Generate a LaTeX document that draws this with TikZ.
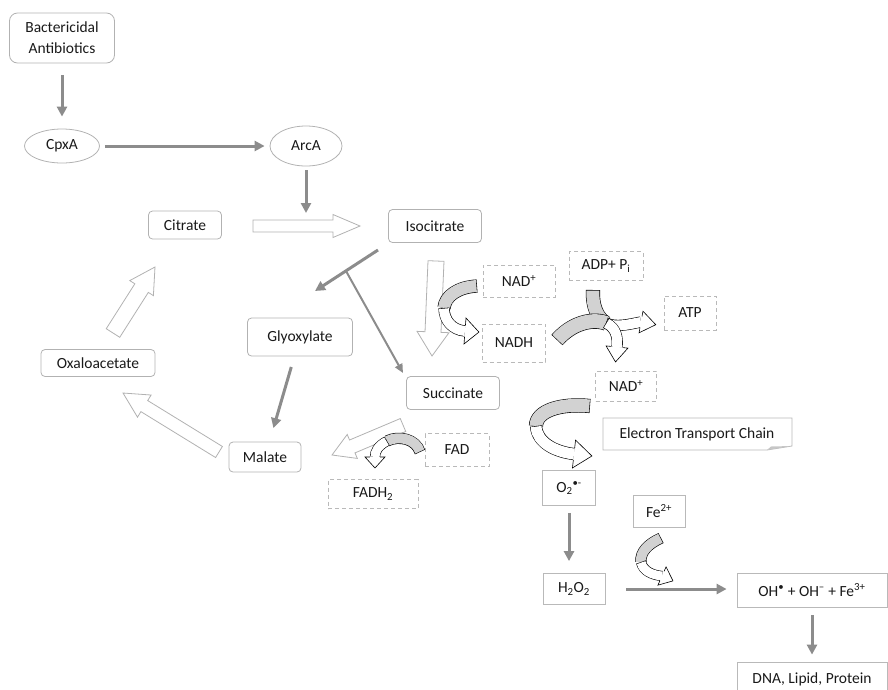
\documentclass[tikz,border=0pt]{standalone}
\usepackage{fontspec}
\setmainfont{Carlito}
\usetikzlibrary{shapes.geometric,arrows.meta,calc}

\tikzset{
 txt/.style={font=\fontsize{15.5}{18}\selectfont, text=black!90, inner sep=0pt, align=center},
 rbox/.style={txt, draw=gray!60, line width=0.8pt, rounded corners=4pt},
 sbox/.style={txt, draw=gray!55, line width=0.8pt},
 dbox/.style={txt, draw=gray!55, line width=1pt, dash pattern=on 4pt off 3pt},
 ell/.style={txt, ellipse, draw=gray!60, line width=0.8pt},
 garrow/.style={draw=gray!90, line width=3pt, -{Triangle[length=10pt,width=10pt]}},
 gthin/.style={draw=gray!90, line width=2pt, -{Triangle[length=9pt,width=8pt]}},
 hollow/.style={draw=gray!60, fill=white, line width=0.8pt, line join=miter},
}

% block arrow: tail, tip, half shaft, half head, head length
\newcommand{\hollowarr}[5]{%
 \coordinate (hn) at ($(#2)!#5!(#1)$);
 \draw[hollow] ($(#1)!#3!90:(#2)$) -- ($(hn)!#3!90:(#2)$) -- ($(hn)!#4!90:(#2)$) -- (#2) -- ($(hn)!#4!-90:(#2)$) -- ($(hn)!#3!-90:(#2)$) -- ($(#1)!#3!-90:(#2)$) -- cycle;}
% curved band: colour, outer width, inner width, options, path
\newcommand{\cband}[5]{%
 \draw[line width=#2, black] #5;
 \draw[line width=#3, #1, #4] #5;}
% head of curved arrow: end E, control D, half band, half head, head length
\newcommand{\chead}[5]{%
 \fill[white] ($(#1)!#4!90:(#2)$) -- ($(#1)!-#5!(#2)$) -- ($(#1)!#4!-90:(#2)$) -- cycle;
 \draw[black, line width=0.6pt, line join=miter] ($(#1)!#3!90:(#2)$) -- ($(#1)!#4!90:(#2)$) -- ($(#1)!-#5!(#2)$) -- ($(#1)!#4!-90:(#2)$) -- ($(#1)!#3!-90:(#2)$);}

\begin{document}
\begin{tikzpicture}[x=1pt,y=-1pt]
\useasboundingbox (0,0) rectangle (888,689);

% ---- nodes ----
\node[rbox, rounded corners=8pt, minimum width=105pt, minimum height=50pt, font=\fontsize{15.5}{21}\selectfont] (bact) at (62,38) {Bactericidal\\Antibiotics};
\node[ell, minimum width=75pt, minimum height=34pt] (cpxa) at (62,146) {CpxA};
\node[ell, minimum width=72pt, minimum height=40pt] (arca) at (306,146) {ArcA};
\node[rbox, minimum width=73pt, minimum height=28pt] (citrate) at (185,225) {Citrate};
\node[rbox, minimum width=93pt, minimum height=33pt] (isocitrate) at (435,226) {Isocitrate};
\node[rbox, minimum width=105pt, minimum height=38pt] (glyox) at (300,337) {Glyoxylate};
\node[rbox, minimum width=72pt, minimum height=30pt] (malate) at (265,457) {Malate};
\node[rbox, minimum width=114pt, minimum height=27pt] (oxalo) at (98,363) {Oxaloacetate};
\node[rbox, minimum width=93pt, minimum height=33pt] (succinate) at (453,393) {Succinate};

\node[dbox, minimum width=72pt, minimum height=32pt] (nad1) at (519,281) {NAD\textsuperscript{+}};
\node[dbox, minimum width=63pt, minimum height=38pt] (nadh) at (514,343) {NADH};
\node[dbox, minimum width=74pt, minimum height=29pt] (adp) at (606,266) {ADP+ P\textsubscript{i}};
\node[dbox, minimum width=52pt, minimum height=34pt] (atp) at (690,313) {ATP};
\node[dbox, minimum width=61pt, minimum height=30pt] (nad2) at (626,386) {NAD\textsuperscript{+}};
\node[dbox, minimum width=64pt, minimum height=33pt] (fad) at (457,450) {FAD};
\node[dbox, minimum width=90pt, minimum height=29pt] (fadh) at (373,494) {FADH\textsubscript{2}};

\node[txt] (etc) at (697,434) {Electron Transport Chain};
\draw[draw=gray!55, line width=0.8pt, line join=miter] (603,418) -- (792,418) -- (792,446) -- (767,450) -- (603,450) -- cycle;
\fill[gray!45] (767,450) -- (792,446) -- (771,446.5) -- cycle;

\node[sbox, minimum width=53pt, minimum height=35pt] (o2) at (569,488) {O\textsubscript{2}\textsuperscript{\textbullet-}};
\node[sbox, minimum width=52pt, minimum height=32pt] (fe) at (659,511) {Fe\textsuperscript{2+}};
\node[sbox, minimum width=62pt, minimum height=31pt] (h2o2) at (574,589) {H\textsubscript{2}O\textsubscript{2}};
\node[sbox, minimum width=150pt, minimum height=34pt] (oh) at (812,590) {OH\textsuperscript{\textbullet} + OH\textsuperscript{–} + Fe\textsuperscript{3+}};
\node[sbox, minimum width=150pt, minimum height=34pt] (dna) at (812,679) {DNA, Lipid, Protein};

% ---- gray connectors ----
\draw[garrow, shorten <=12pt, shorten >=12pt] (bact) -- (cpxa);
\draw[garrow, shorten <=5pt, shorten >=5pt] (cpxa) -- (arca);
\coordinate (arcend) at (306,213);
\draw[garrow, shorten <=4pt] (arca) -- (arcend);
\coordinate (t1) at (378,250);
\coordinate (t2) at (315,291);
\coordinate (tj) at (346,271);
\coordinate (t3) at (403,373);
\draw[garrow] (t1) -- (t2);
\draw[gthin] (tj) -- (t3);
\draw[garrow, shorten <=11pt, shorten >=14pt] (glyox) -- (malate);
\draw[garrow, shorten <=7pt, shorten >=12pt] (o2.south) -- (o2.south |- h2o2.north);
\draw[garrow, shorten <=21pt, shorten >=10pt] (h2o2) -- (h2o2 -| oh.west);
\draw[garrow, shorten <=8pt, shorten >=7pt] (oh) -- (dna);

% ---- hollow arrows ----
\hollowarr{253,226}{360,226}{6pt}{11.5pt}{27pt}
\hollowarr{436,261}{432,356}{8pt}{16pt}{24pt}
\hollowarr{113,333}{155,267}{8pt}{14pt}{25pt}
\hollowarr{219,452}{123,393}{6.5pt}{13pt}{25pt}
\hollowarr{403,425}{332,455}{7pt}{13pt}{22pt}

% ---- curved arrows ----
% NAD+ -> NADH
\cband{gray!35}{13.2pt}{12pt}{shorten <=0.6pt}{(477,286) .. controls (458,287) and (445,296) .. (444,308)}
\cband{white}{11.2pt}{10pt}{shorten <=0.6pt}{(444,308) .. controls (444,320) and (452,330) .. (465,331)}
\chead{465,331}{452,330}{5.6pt}{13pt}{14pt}
% ADP -> ATP and NADH -> NAD+
\cband{gray!35}{14.2pt}{13pt}{shorten <=0.6pt}{(593,290) .. controls (592,305) and (597,318) .. (606,323)}
\cband{gray!35}{15.2pt}{14pt}{shorten <=0.6pt}{(557,340) .. controls (572,323) and (592,318) .. (606,323)}
\cband{white}{11.2pt}{10pt}{shorten <=0.6pt}{(606,323) .. controls (616,328) and (630,324) .. (641,322)}
\chead{641,322}{630,320}{5.6pt}{11pt}{15pt}
\cband{white}{11.2pt}{10pt}{shorten <=0.6pt}{(606,323) .. controls (616,328) and (618,337) .. (617,347)}
\chead{617,347}{618,337}{5.6pt}{11pt}{15pt}
% NAD+ -> ETC
\cband{gray!35}{14.2pt}{13pt}{shorten <=0.6pt}{(590,406) .. controls (560,403) and (536,411) .. (536,426)}
\cband{white}{12.2pt}{11pt}{shorten <=0.6pt}{(536,426) .. controls (537,443) and (556,452) .. (574,454)}
\chead{574,454}{556,452}{6.1pt}{14pt}{18pt}
% Fe
\cband{gray!35}{11.2pt}{10pt}{shorten <=0.6pt}{(661,538) .. controls (648,544) and (640,552) .. (641,562)}
\cband{white}{10.2pt}{9pt}{shorten <=0.6pt}{(641,562) .. controls (643,571) and (652,575) .. (662,576)}
\chead{662,576}{653,572}{5.1pt}{10pt}{12pt}
% FAD
\cband{gray!35}{11.2pt}{10pt}{shorten <=0.6pt}{(420,452) .. controls (416,439) and (399,435) .. (387,441)}
\cband{white}{10.2pt}{9pt}{shorten <=0.6pt}{(387,441) .. controls (378,446) and (375,451) .. (375,457)}
\chead{375,457}{375,451}{5.1pt}{10pt}{11pt}
\end{tikzpicture}
\end{document}
